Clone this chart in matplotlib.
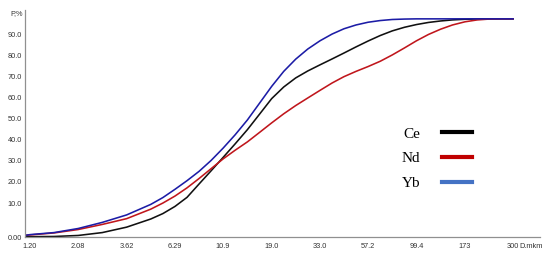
import numpy as np
import matplotlib
matplotlib.use('Agg')
import matplotlib.pyplot as plt
from matplotlib.lines import Line2D

# particle size, mkm (log axis)
diam = [1.14, 1.20, 1.58, 2.08, 2.74, 3.62, 4.77, 5.48, 6.29, 7.22, 8.28, 9.51,
        10.9, 12.5, 14.4, 16.5, 19.0, 21.8, 25.0, 28.7, 33.0, 37.9, 43.4, 49.8,
        57.2, 65.7, 75.4, 86.6, 99.4, 114, 131, 150, 173, 199, 228, 262, 300]

# cumulative fraction P, %
ce = [0.05, 0.1, 0.15, 0.45, 1.3, 2.9, 5.3, 6.9, 9.0, 12.7, 19.0, 25.3,
      31.6, 38.0, 44.8, 52.0, 59.5, 65.0, 69.3, 72.6, 75.5, 78.3, 81.1, 84.0,
      86.8, 89.4, 91.6, 93.3, 94.6, 95.6, 96.3, 96.8, 97.1, 97.25, 97.3, 97.3, 97.3]
nd = [0.5, 0.6, 1.2, 2.2, 3.7, 5.4, 8.2, 10.0, 13.3, 17.2, 21.6, 26.3,
      30.9, 35.0, 39.0, 43.4, 48.0, 52.3, 56.2, 59.8, 63.4, 66.9, 69.9, 72.4,
      74.7, 77.2, 80.2, 83.5, 86.9, 89.9, 92.4, 94.4, 95.9, 96.8, 97.2, 97.3, 97.3]
yb = [0.5, 0.7, 1.3, 2.5, 4.3, 6.5, 9.6, 12.6, 16.5, 20.6, 25.0, 30.2,
      36.0, 42.3, 49.4, 57.2, 65.3, 72.4, 78.2, 83.0, 86.9, 90.1, 92.6, 94.4,
      95.7, 96.5, 97.0, 97.2, 97.3, 97.3, 97.3, 97.3, 97.3, 97.3, 97.3, 97.3, 97.3]

x_ticks = [1.20, 2.08, 3.62, 6.29, 10.9, 19.0, 33.0, 57.2, 99.4, 173, 300]
x_labels = ['1.20', '2.08', '3.62', '6.29', '10.9', '19.0', '33.0', '57.2', '99.4', '173', '300']
y_ticks = [0, 10, 20, 30, 40, 50, 60, 70, 80, 90]
y_labels = ['0.00'] + ['%.1f' % v for v in y_ticks[1:]]

names = ['Ce', 'Nd', 'Yb']
line_colors = ['#111111', '#c0161c', '#1c1ca6']
legend_colors = ['#000000', '#c00000', '#4472c4']


# the 0-10 band is drawn taller than the rest of the axis
K = 1.61


def fwd(y):
    y = np.asarray(y, dtype=float)
    return np.where(y <= 10, y * K, 10 * K + (y - 10))


def inv(v):
    v = np.asarray(v, dtype=float)
    return np.where(v <= 10 * K, v / K, v - 10 * K + 10)


fig = plt.figure(figsize=(5.5, 2.58), dpi=100)
ax = fig.add_axes([25 / 550, 1 - 237 / 258, 515 / 550, 227 / 258])

for vals, c in zip([ce, nd, yb], line_colors):
    ax.plot(diam, vals, color=c, lw=1.15, solid_joinstyle='round')

ax.set_xscale('log')
ax.set_yscale('function', functions=(fwd, inv))
ax.set_xlim(1.133, 408)
ax.set_ylim(0, 101.5)

ax.set_xticks(x_ticks)
ax.set_xticklabels(x_labels)
ax.xaxis.set_minor_locator(matplotlib.ticker.NullLocator())
ax.set_yticks(y_ticks)
ax.set_yticklabels(y_labels)
ax.yaxis.set_minor_locator(matplotlib.ticker.NullLocator())

for lab in ax.get_xticklabels() + ax.get_yticklabels():
    lab.set_fontfamily('Liberation Sans')
    lab.set_fontsize(5.3)
    lab.set_color('#333333')
ax.tick_params(axis='x', length=0, pad=4.5)
ax.tick_params(axis='y', length=0, pad=2)

for s in ['top', 'right']:
    ax.spines[s].set_visible(False)
for s in ['left', 'bottom']:
    ax.spines[s].set_color('#909090')
    ax.spines[s].set_linewidth(0.9)

ax.text(-0.005, 0.985, 'P,%', transform=ax.transAxes, ha='right', va='center',
        fontsize=5.3, family='Liberation Sans', color='#333333')
ax.annotate('D.mkm', xy=(300, 0), xycoords='data', xytext=(4.5, -4.5),
            textcoords='offset points', ha='left', va='top',
            fontsize=5.3, family='Liberation Sans', color='#333333')

handles = [Line2D([], [], color=c, lw=3) for c in legend_colors]
leg = ax.legend(handles, names, loc='upper left', bbox_to_anchor=(0.705, 0.545),
                frameon=False, markerfirst=False, handlelength=2.0,
                handletextpad=1.4, labelspacing=0.72,
                prop={'family': 'Liberation Serif', 'size': 11})
for t in leg.get_texts():
    t.set_ha('left')

fig.savefig('out.png', dpi=100)
